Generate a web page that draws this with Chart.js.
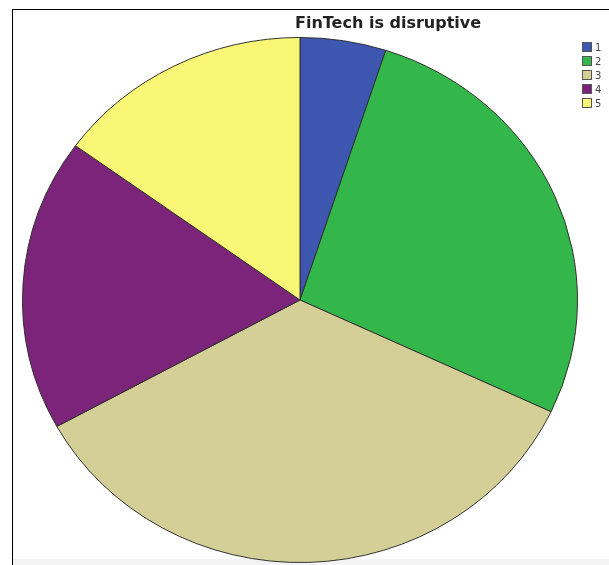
<!DOCTYPE html>
<html>
<head>
<meta charset="utf-8">
<script src="https://cdn.jsdelivr.net/npm/chart.js"></script>
<style>
    html, body { margin: 0; padding: 0; background: #fff; overflow: hidden; }
    #wrap { position: relative; width: 609px; height: 565px; overflow: hidden; }
    .frame { position: absolute; left: 12px; top: 9px; width: 700px; height: 700px; border-left: 1px solid #000; border-top: 1px solid #000; }
    .band { position: absolute; left: 13px; right: 0; top: 559px; height: 6px; background: #f3f3f3; }
    #pie { position: absolute; left: 0; top: 0; }
    .title { position: absolute; left: 295px; top: 13px; white-space: nowrap; font: bold 16px "DejaVu Sans", sans-serif; color: #222; }
    .legend { position: absolute; left: 582px; top: 40px; font: 10px "DejaVu Sans", sans-serif; color: #444; }
    .legend div { height: 14px; display: flex; align-items: center; }
    .legend span.box { width: 10px; height: 10px; border: 1px solid #555; box-sizing: border-box; margin-right: 3px; }
</style>
</head>
<body>
<div id="wrap">
    <div class="frame"></div>
    <div class="band"></div>
    <canvas id="pie" width="609" height="620"></canvas>
    <div class="title" id="title"></div>
    <div class="legend" id="legend"></div>
</div>
<script>
const title = 'FinTech is disruptive';
const categories = ['1', '2', '3', '4', '5'];
const shares = [5, 27, 35, 18, 15];
const colors = ['#3d56b0', '#33b64a', '#d4cf97', '#7b2479', '#fbf776'];

document.getElementById('title').textContent = title;

const legend = document.getElementById('legend');
categories.forEach((cat, i) => {
    const row = document.createElement('div');
    const box = document.createElement('span');
    box.className = 'box';
    box.style.background = colors[i];
    row.appendChild(box);
    row.appendChild(document.createTextNode(cat));
    legend.appendChild(row);
});

// the original pie is a little flatter than it is wide
const squash = {
    id: 'squash',
    beforeDatasetsDraw(chart) {
        const arc = chart.getDatasetMeta(0).data[0];
        const ctx = chart.ctx;
        ctx.save();
        ctx.translate(arc.x, arc.y);
        ctx.scale(1, 263 / 278);
        ctx.translate(-arc.x, -arc.y);
    },
    afterDatasetsDraw(chart) {
        chart.ctx.restore();
    }
};

const ctx = document.getElementById('pie').getContext('2d');
const chart = new Chart(ctx, {
    type: 'pie',
    data: {
        labels: categories,
        datasets: [{
            data: shares,
            backgroundColor: colors,
            borderColor: '#2e2e2e',
            borderWidth: 1
        }]
    },
    options: {
        responsive: false,
        animation: false,
        layout: { padding: { left: 22, right: 31, top: 22, bottom: 42 } },
        plugins: {
            legend: { display: false },
            title: { display: false },
            tooltip: { enabled: false }
        }
    },
    plugins: [squash]
});
</script>
</body>
</html>
